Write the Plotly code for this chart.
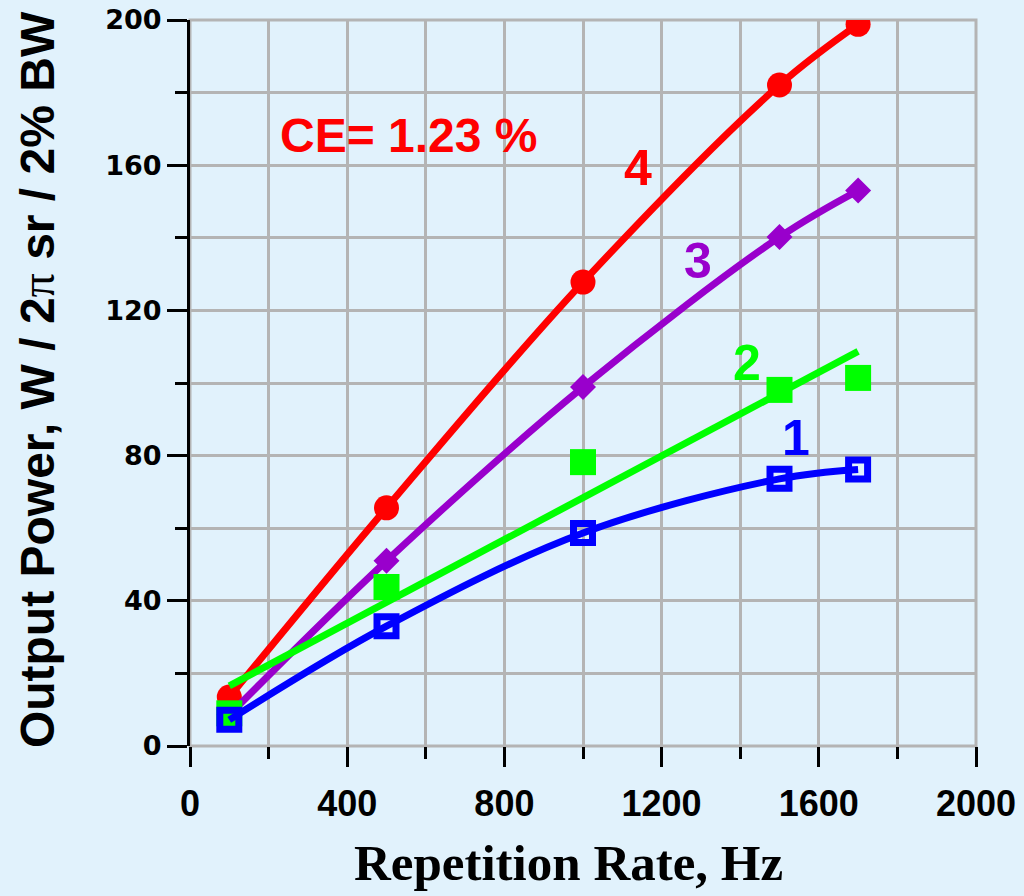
import numpy as np
import plotly.graph_objects as go

# Repetition rate (Hz) and output power (W / 2π sr / 2% BW) for the four cases
rate_hz = [100, 500, 1000, 1500, 1700]
power_1 = [7.2, 33.0, 58.7, 73.6, 76.2]
power_2 = [9.0, 43.8, 78.2, 98.1, 101.4]
power_3 = [8.6, 51.0, 98.9, 140.2, 153.0]
power_4 = [13.5, 65.6, 127.8, 182.1, 198.8]

x_ticks = [0, 400, 800, 1200, 1600, 2000]
y_ticks = [0, 40, 80, 120, 160, 200]

BG = "#e1f2fc"
GRID = "#b4b4b4"
RED = "#ff0000"
PURPLE = "#9900cc"
GREEN = "#00ff00"
BLUE = "#0000ff"
SANS = "Liberation Sans, Arial, sans-serif"

# linear fit for series 2
slope, intercept = np.polyfit(rate_hz, power_2, 1)
fit_x = [rate_hz[0], rate_hz[-1]]
fit_y = [slope * v + intercept for v in fit_x]

fig = go.Figure()

fig.add_trace(go.Scatter(
    x=rate_hz, y=power_4, mode="lines+markers",
    line=dict(color=RED, width=7, shape="spline"),
    marker=dict(symbol="circle", size=25, color=RED),
))
fig.add_trace(go.Scatter(
    x=rate_hz, y=power_3, mode="lines+markers",
    line=dict(color=PURPLE, width=7, shape="spline"),
    marker=dict(symbol="diamond", size=20, color=PURPLE),
))
fig.add_trace(go.Scatter(
    x=rate_hz, y=power_2, mode="markers",
    marker=dict(symbol="square", size=26, color=GREEN),
))
fig.add_trace(go.Scatter(
    x=fit_x, y=fit_y, mode="lines",
    line=dict(color=GREEN, width=7),
))
fig.add_trace(go.Scatter(
    x=rate_hz, y=power_1, mode="lines+markers",
    line=dict(color=BLUE, width=7, shape="spline"),
    marker=dict(symbol="square-open", size=19, color=BLUE,
                line=dict(width=7, color=BLUE)),
))

# frame around the plotting area
fig.add_shape(type="rect", xref="paper", yref="paper", x0=0, y0=0, x1=1, y1=1,
              line=dict(color=GRID, width=3), layer="below")

# curve labels
labels = [("4", 1141, 159.2, RED), ("3", 1292, 133.6, PURPLE),
          ("2", 1417, 105.5, GREEN), ("1", 1541, 84.8, BLUE)]
for txt, lx, ly, col in labels:
    fig.add_annotation(x=lx, y=ly, xref="x", yref="y", text="<b>" + txt + "</b>",
                       showarrow=False, font=dict(family=SANS, size=50, color=col))

fig.add_annotation(x=555, y=168.3, xref="x", yref="y", text="<b>CE= 1.23 %</b>",
                   showarrow=False, font=dict(family=SANS, size=48, color=RED))

# axis titles
fig.add_annotation(
    x=0, y=0.504, xref="paper", yref="paper", xshift=-153,
    text="<b>Output Power, W / 2<span style='font-family:Liberation Serif;font-weight:normal'>π</span> sr / 2% BW</b>",
    textangle=-90, showarrow=False, xanchor="center", yanchor="middle",
    font=dict(family=SANS, size=48, color="black"))
fig.add_annotation(
    x=0.481, y=0, xref="paper", yref="paper", yshift=-117,
    text="<b>Repetition Rate, Hz</b>", showarrow=False,
    xanchor="center", yanchor="middle",
    font=dict(family="Liberation Serif, Times New Roman, serif", size=51, color="black"))

fig.update_layout(
    width=1024, height=896,
    margin=dict(l=190, r=48, t=20, b=150),
    paper_bgcolor=BG, plot_bgcolor=BG,
    showlegend=False,
)
fig.update_xaxes(
    range=[0, 2000], tickvals=x_ticks, ticktext=[str(v) for v in x_ticks],
    automargin=False,
    showgrid=True, gridcolor=GRID, gridwidth=2.5, zeroline=False,
    showline=False,
    ticks="outside", ticklen=20, tickwidth=3, tickcolor="black",
    ticklabelstandoff=6,
    minor=dict(dtick=200, tick0=0, ticks="outside", ticklen=12, tickwidth=3,
               tickcolor="black", showgrid=True, gridcolor=GRID, gridwidth=2.5),
    tickfont=dict(family=SANS, size=36, color="black", weight="bold"),
)
fig.update_yaxes(
    range=[0, 200], tickvals=y_ticks, ticktext=[str(v) for v in y_ticks],
    automargin=False,
    showgrid=True, gridcolor=GRID, gridwidth=2.5, zeroline=False,
    showline=True, linecolor="black", linewidth=3,
    ticks="outside", ticklen=20, tickwidth=3, tickcolor="black",
    minor=dict(dtick=20, tick0=0, ticks="outside", ticklen=12, tickwidth=3,
               tickcolor="black", showgrid=True, gridcolor=GRID, gridwidth=2.5),
    tickfont=dict(family="DejaVu Sans, sans-serif", size=27, color="black", weight="bold"),
)

fig.write_html("out.html")
